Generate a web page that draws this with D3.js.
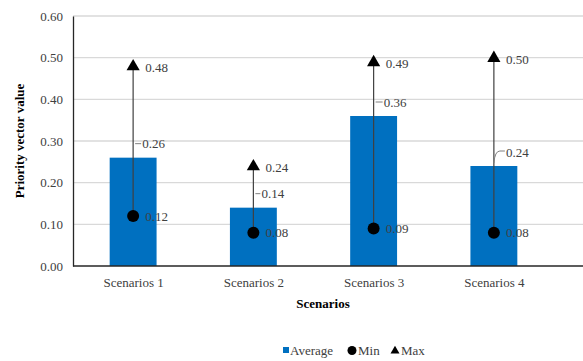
<!DOCTYPE html>
<html><head><meta charset="utf-8">
<script src="https://cdn.jsdelivr.net/npm/d3@7"></script>
<style>body{margin:0;background:#fff;}svg{display:block;}</style>
</head><body>
<script>
const categories = ["Scenarios 1","Scenarios 2","Scenarios 3","Scenarios 4"];
const averageValues = [0.26, 0.14, 0.36, 0.24];
const minValues = [0.12, 0.08, 0.09, 0.08];
const maxValues = [0.48, 0.24, 0.49, 0.50];
const yTicks = [0, 0.1, 0.2, 0.3, 0.4, 0.5, 0.6];
const legendLabels = ["Average","Min","Max"];

(function () {
const W = 583, H = 361;
const pL = 73, pR = 554, pT = 16, pB = 266;
const svg = d3.select("body").append("svg").attr("width", W).attr("height", H);
const font = "'Liberation Serif','Times New Roman',serif";
const txt = "#404040";

const y = d3.scaleLinear().domain([0, 0.6]).range([pB, pT]);
const x = d3.scalePoint().domain(categories).range([pL, pR]).padding(0.5);
const step = x.step();
const bw = step * 0.39;

// gridlines
svg.append("g").selectAll("line").data(yTicks.filter(d => d > 0)).join("line")
  .attr("x1", pL).attr("x2", W).attr("y1", d => y(d)).attr("y2", d => y(d))
  .attr("stroke", "#d9d9d9").attr("stroke-width", 1.3);

// y axis
const yAxis = svg.append("g").attr("transform", `translate(${pL},0)`)
  .call(d3.axisLeft(y).tickValues(yTicks).tickFormat(d3.format(".2f")).tickSize(0).tickPadding(10));
yAxis.select(".domain").attr("stroke", "#262626").attr("stroke-width", 1.3);
yAxis.selectAll("text").attr("font-family", font).attr("font-size", 13).attr("fill", txt);

// bars
svg.append("g").selectAll("rect").data(categories).join("rect")
  .attr("x", d => x(d) - bw / 2).attr("width", bw)
  .attr("y", (d, i) => y(averageValues[i])).attr("height", (d, i) => pB - y(averageValues[i]))
  .attr("fill", "#0070c0");

// x axis
const xAxis = svg.append("g").attr("transform", `translate(0,${pB})`)
  .call(d3.axisBottom(x).tickSize(0).tickPadding(12));
xAxis.select(".domain").remove();
svg.append("line").attr("x1", pL).attr("x2", W).attr("y1", pB).attr("y2", pB)
  .attr("stroke", "#262626").attr("stroke-width", 1.3);
xAxis.selectAll("text").attr("font-family", font).attr("font-size", 13).attr("fill", txt);

// min-max lines
svg.append("g").selectAll("line").data(categories).join("line")
  .attr("x1", d => x(d)).attr("x2", d => x(d))
  .attr("y1", (d, i) => y(minValues[i])).attr("y2", (d, i) => y(maxValues[i]))
  .attr("stroke", "#404040").attr("stroke-width", 1.2);

// markers
svg.append("g").selectAll("circle").data(categories).join("circle")
  .attr("cx", d => x(d)).attr("cy", (d, i) => y(minValues[i])).attr("r", 6).attr("fill", "#000");
const tri = d3.symbol().type(d3.symbolTriangle).size(75);
svg.append("g").selectAll("path").data(categories).join("path")
  .attr("d", tri).attr("transform", (d, i) => `translate(${x(d)},${y(maxValues[i]) + 0.5})`).attr("fill", "#000");

// labels
const lab = svg.append("g").attr("font-family", font).attr("font-size", 13).attr("fill", txt);
categories.forEach((c, i) => {
  lab.append("text").attr("x", x(c) + 12).attr("y", y(minValues[i]) + 4.5).text(d3.format(".2f")(minValues[i]));
  lab.append("text").attr("x", x(c) + 12).attr("y", y(maxValues[i]) + 6).text(d3.format(".2f")(maxValues[i]));
});
// average labels with leaders
const avgOffsets = [[9, -14], [8, -14], [10, -14], [12, -14]];
categories.forEach((c, i) => {
  const cx = x(c), cy = y(averageValues[i]);
  const [dx, dy] = avgOffsets[i];
  const ly = cy + dy;
  if (i === 3) {
    svg.append("path").attr("d", `M${cx},${cy - 3} Q${cx + 1},${ly - 1} ${cx + 6},${ly - 1} L${cx + dx - 1},${ly - 1}`)
      .attr("fill", "none").attr("stroke", "#808080").attr("stroke-width", 1);
  } else {
    svg.append("line").attr("x1", cx + 2).attr("x2", cx + dx - 1).attr("y1", ly).attr("y2", ly)
      .attr("stroke", "#808080").attr("stroke-width", 1);
  }
  lab.append("text").attr("x", cx + dx).attr("y", ly + 4.5).text(d3.format(".2f")(averageValues[i]));
});

// axis titles
svg.append("text").attr("x", 323).attr("y", 308).attr("text-anchor", "middle")
  .attr("font-family", font).attr("font-size", 13).attr("font-weight", "bold").attr("fill", "#000").text("Scenarios");
svg.append("text").attr("transform", `translate(24,141) rotate(-90)`).attr("text-anchor", "middle")
  .attr("font-family", font).attr("font-size", 13).attr("font-weight", "bold").attr("fill", "#000").text("Priority vector value");

// legend
const lg = svg.append("g").attr("font-family", font).attr("font-size", 13).attr("fill", txt);
lg.append("rect").attr("x", 283).attr("y", 347).attr("width", 6).attr("height", 6).attr("fill", "#0070c0");
lg.append("text").attr("x", 290).attr("y", 355).text(legendLabels[0]);
lg.append("circle").attr("cx", 352).attr("cy", 350.5).attr("r", 4.5).attr("fill", "#000");
lg.append("text").attr("x", 358).attr("y", 355).text(legendLabels[1]);
lg.append("path").attr("d", d3.symbol().type(d3.symbolTriangle).size(35)).attr("transform", "translate(395,351)").attr("fill", "#000");
lg.append("text").attr("x", 401).attr("y", 355).text(legendLabels[2]);
})();
</script>
</body></html>
